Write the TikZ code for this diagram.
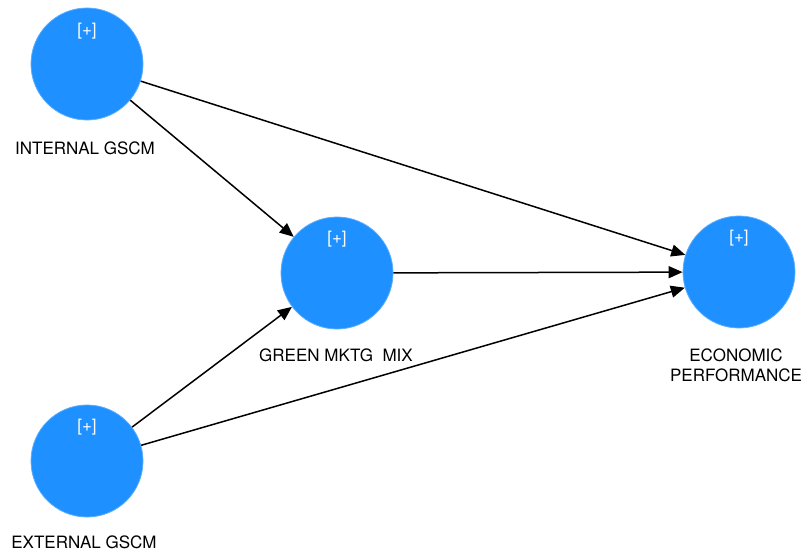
\documentclass[tikz,border=0pt]{standalone}
\usepackage{fontspec}
\setmainfont{TeX Gyre Heros}
\usetikzlibrary{arrows.meta}
\definecolor{latentblue}{HTML}{1E90FF}
\definecolor{latentrim}{HTML}{5AAEFF}
\tikzset{
  latent/.style={circle, fill=latentblue, draw=latentrim, line width=0.8pt,
    minimum size=112pt, inner sep=0pt},
  plus/.style={text=white, font=\fontsize{17}{19}\selectfont, inner sep=0pt},
  caption/.style={font=\fontsize{17}{20}\selectfont, align=center, inner sep=0pt},
  path/.style={draw=black, line width=1.5pt, -{Triangle[length=14pt,width=12pt]}}
}
\begin{document}
\begin{tikzpicture}[x=1pt, y=-1pt]
  \useasboundingbox (0,0) rectangle (804,551);

  % latent variables
  \node[latent] (int) at (87,64) {};
  \node[latent] (mix) at (337,273) {};
  \node[latent] (eco) at (739,272) {};
  \node[latent] (ext) at (87,461) {};

  % expand markers
  \node[plus] (intp) at (87,31) {[+]};
  \node[plus] (mixp) at (337,239) {[+]};
  \node[plus] (ecop) at (739,238) {[+]};
  \node[plus] (extp) at (87,427) {[+]};

  % captions
  \node[caption] (intl) at (85,148) {INTERNAL GSCM};
  \node[caption] (mixl) at (336,355) {GREEN MKTG\ \ MIX};
  \node[caption] (ecol) at (736,365) {ECONOMIC\\PERFORMANCE};
  \node[caption] (extl) at (84,542) {EXTERNAL GSCM};

  % structural paths
  \draw[path] (int) -- (mix);
  \draw[path] (int) -- (eco);
  \draw[path] (mix) -- (eco);
  \draw[path] (ext) -- (mix);
  \draw[path] (ext) -- (eco);
\end{tikzpicture}
\end{document}
